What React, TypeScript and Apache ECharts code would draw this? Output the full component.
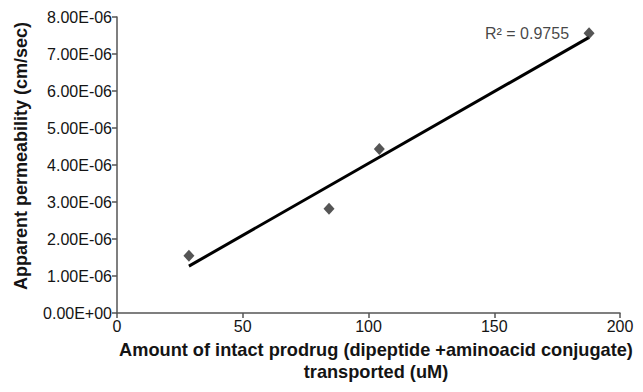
import React, { useEffect, useRef } from "react";
import * as echarts from "echarts";

const xValues = [28.6, 84.3, 104.3, 187.7];
const yValues = [1.55e-6, 2.82e-6, 4.43e-6, 7.56e-6];
const xTicks = [0, 50, 100, 150, 200];
const yTickStep = 1e-6;
const yMax = 8e-6;
const r2Label = "R² = 0.9755";
const xTitle = "Amount of intact prodrug (dipeptide +aminoacid conjugate)\ntransported (uM)";
const yTitle = "Apparent permeability (cm/sec)";

function fmtSci(v: number): string {
  if (Math.abs(v) < 1e-12) return "0.00E+00";
  const e = Math.floor(Math.log10(Math.abs(v)) + 1e-9);
  const m = v / Math.pow(10, e);
  const sign = e < 0 ? "-" : "+";
  const ee = String(Math.abs(e)).padStart(2, "0");
  return m.toFixed(2) + "E" + sign + ee;
}

function regression(xs: number[], ys: number[]) {
  const n = xs.length;
  const mx = xs.reduce((a, b) => a + b, 0) / n;
  const my = ys.reduce((a, b) => a + b, 0) / n;
  let sxy = 0, sxx = 0;
  for (let i = 0; i < n; i++) {
    sxy += (xs[i] - mx) * (ys[i] - my);
    sxx += (xs[i] - mx) * (xs[i] - mx);
  }
  const slope = sxy / sxx;
  return { slope, intercept: my - slope * mx };
}

export default function App() {
  const ref = useRef<HTMLDivElement>(null);
  useEffect(() => {
    if (!ref.current) return;
    const chart = echarts.init(ref.current, undefined, { renderer: "svg" });
    const { slope, intercept } = regression(xValues, yValues);
    const xMin = Math.min(...xValues);
    const xMaxD = Math.max(...xValues);
    const trend = [
      [xMin, intercept + slope * xMin],
      [xMaxD, intercept + slope * xMaxD],
    ];
    const font = "Arial, 'Liberation Sans', sans-serif";
    const txt = "#141414";
    chart.setOption({
      animation: false,
      backgroundColor: "#ffffff",
      grid: { left: 117, right: 23, top: 17, bottom: 79 },
      xAxis: {
        type: "value",
        min: xTicks[0],
        max: xTicks[xTicks.length - 1],
        interval: 50,
        splitLine: { show: false },
        axisLine: { show: true, onZero: false, lineStyle: { color: "#555", width: 1.5 } },
        axisTick: { show: true, length: 5, lineStyle: { color: "#555", width: 1.5 } },
        axisLabel: { color: txt, fontSize: 16, fontFamily: font, margin: 5 },
      },
      yAxis: {
        type: "value",
        min: 0,
        max: yMax,
        interval: yTickStep,
        splitLine: { show: false },
        axisLine: { show: true, lineStyle: { color: "#555", width: 1.5 } },
        axisTick: { show: true, length: 5, lineStyle: { color: "#555", width: 1.5 } },
        axisLabel: {
          color: txt,
          fontSize: 16,
          fontFamily: font,
          margin: 5,
          formatter: (v: number) => fmtSci(v),
        },
      },
      graphic: [
        {
          type: "text",
          x: 21,
          y: 156,
          rotation: Math.PI / 2,
          style: {
            text: yTitle,
            fill: txt,
            font: "bold 18px " + font,
            align: "center",
            verticalAlign: "middle",
          },
        },
        {
          type: "text",
          x: 376,
          y: 361,
          style: {
            text: xTitle,
            fill: txt,
            font: "bold 18.2px " + font,
            align: "center",
            verticalAlign: "middle",
            lineHeight: 22,
          },
        },
      ],
      series: [
        {
          type: "line",
          data: trend,
          symbol: "none",
          lineStyle: { color: "#000", width: 3 },
          z: 2,
        },
        {
          type: "scatter",
          data: xValues.map((x, i) => [x, yValues[i]]),
          symbol: "diamond",
          symbolSize: [11, 12],
          itemStyle: { color: "#2b2b2b" },
          z: 3,
        },
        {
          type: "scatter",
          data: [[xValues[3], yValues[3]]],
          symbolSize: 0,
          label: {
            show: true,
            formatter: r2Label,
            position: "left",
            distance: 20,
            color: txt,
            fontSize: 16,
            fontFamily: font,
          },
          silent: true,
          z: 4,
        },
      ],
    });
    return () => chart.dispose();
  }, []);
  return <div ref={ref} style={{ width: 643, height: 392, margin: -8 }} />;
}
